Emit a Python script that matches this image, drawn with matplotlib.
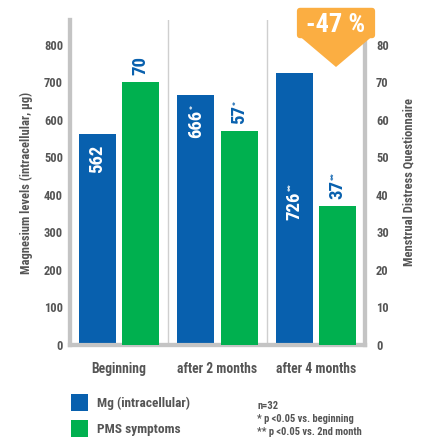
import matplotlib
matplotlib.use("Agg")
import matplotlib.pyplot as plt
from matplotlib.patches import Polygon, Rectangle, FancyBboxPatch
from matplotlib import font_manager as fm

categories = ["Beginning", "after 2 months", "after 4 months"]
mg_values = [562, 666, 726]
pms_values = [70, 57, 37]
mg_labels = ["562", "666", "726"]
pms_labels = ["70", "57", "37"]
mg_marks = ["", "*", "**"]
pms_marks = ["", "*", "**"]
left_ticks = [0, 100, 200, 300, 400, 500, 600, 700, 800]
right_ticks = [0, 10, 20, 30, 40, 50, 60, 70, 80]
badge_text = "-47 %"
legend_labels = ["Mg (intracellular)", "PMS symptoms"]
notes = ["n=32", "* p <0.05 vs. beginning", "** p <0.05 vs. 2nd month"]

names = {f.name for f in fm.fontManager.ttflist}
FAM = ["Liberation Sans Narrow"] if "Liberation Sans Narrow" in names else ["Roboto Condensed", "Liberation Sans"]
FAM = FAM + ["DejaVu Sans"]
plt.rcParams["font.family"] = FAM

BLUE = "#0860ae"
GREEN = "#00b04f"
ORANGE = "#fbae42"
GRAY = "#555555"
SPINE = "#c4c4c4"

W, H = 422, 441
fig = plt.figure(figsize=(W / 100, H / 100), dpi=100)
ax = fig.add_axes([70 / W, 1 - 345 / H, 295 / W, (345 - 20) / H])
ax2 = ax.twinx()

x = list(range(len(categories)))
bw = 0.378
off = 0.22
ax.bar([i - off for i in x], mg_values, width=bw, color=BLUE, zorder=3)
ax2.bar([i + off for i in x], pms_values, width=bw, color=GREEN, zorder=3)

ax.set_xlim(-0.5, 2.5)
ax.set_ylim(0, 866)
ax2.set_ylim(0, 86.6)
for b in [0.5, 1.5]:
    ax.axvline(b, color="#cfcfcf", lw=1, zorder=1)

for a in (ax, ax2):
    a.spines["top"].set_visible(False)
    for s in ["left", "right", "bottom"]:
        a.spines[s].set_color(SPINE)
        a.spines[s].set_linewidth(3)
    a.tick_params(length=0)

ax.set_yticks(left_ticks)
ax.set_yticklabels([str(t) for t in left_ticks], fontsize=9, fontweight="bold", color=GRAY)
ax2.set_yticks(right_ticks)
ax2.set_yticklabels([str(t) for t in right_ticks], fontsize=9, fontweight="bold", color=GRAY)
ax.tick_params(axis="y", pad=5)
ax2.tick_params(axis="y", pad=8)
ax.set_xticks(x)
ax.set_xticklabels(categories, fontsize=9.8, fontweight="bold", color=GRAY)
ax.tick_params(axis="x", pad=12)

ax.set_ylabel("Magnesium levels (intracellular, µg)", fontsize=9, fontweight="bold", color=GRAY, labelpad=8)
ax2.set_ylabel("Menstrual Distress Questionnaire", fontsize=9, fontweight="bold", color=GRAY, labelpad=10)

# value labels
mg_label_y = [496, 589, 371]
num_texts = []
for i, (lab, ly, mk) in enumerate(zip(mg_labels, mg_label_y, mg_marks)):
    t = ax.text(i - off, ly, lab, rotation=90, ha="center", va="center", color="white",
                fontsize=13.5, fontweight="bold", zorder=5)
    num_texts.append((t, mk, "white"))
for i, (v, lab, mk) in enumerate(zip(pms_values, pms_labels, pms_marks)):
    t = ax2.annotate(lab, (i + off, v), xytext=(0, 5), textcoords="offset points",
                     rotation=90, ha="center", va="bottom", color=BLUE,
                     fontsize=13.5, fontweight="bold", zorder=5)
    num_texts.append((t, mk, BLUE))

fig.canvas.draw()
r = fig.canvas.get_renderer()
inv = fig.transFigure.inverted()
for t, mk, col in num_texts:
    if not mk:
        continue
    bb = t.get_window_extent(r)
    px, py = inv.transform((bb.x0 + 1.5, bb.y1 + 0.5))
    fig.text(px, py, mk, rotation=90, ha="left", va="bottom", color=col,
             fontsize=6, fontweight="bold", zorder=12)

# badge
bx0, bx1, by0, by1 = 297, 375, 8, 36
tipx, tipy = 336, 67
def fx(p):
    return p / W
def fy(p):
    return 1 - p / H
badge = FancyBboxPatch((fx(bx0 + 2), fy(by1)), fx(bx1 - bx0 - 4), fy(by0 + 2) - fy(by1),
                       boxstyle="round,pad=0.005,rounding_size=0.008",
                       transform=fig.transFigure, facecolor=ORANGE, edgecolor="none", zorder=10)
fig.patches.append(badge)
tri = Polygon([(fx(bx0), fy(by1 - 2)), (fx(bx1), fy(by1 - 2)), (fx(tipx), fy(tipy))],
              closed=True, transform=fig.transFigure, facecolor=ORANGE, edgecolor="none",
              zorder=10)
fig.patches.append(tri)
fig.text(fx(336), fy(25), badge_text, ha="center", va="center", color="white",
         fontsize=19, fontweight="bold", zorder=11)

# legend
for j, (lab, col) in enumerate(zip(legend_labels, [BLUE, GREEN])):
    ytop = 394 + j * 26
    fig.patches.append(Rectangle((fx(71), fy(ytop + 17)), fx(17), fy(ytop) - fy(ytop + 17),
                                 transform=fig.transFigure, facecolor=col, edgecolor="none"))
    fig.text(fx(97), fy(ytop + 9), lab, ha="left", va="center", fontsize=9.6,
             fontweight="bold", color=GRAY)

for j, n in enumerate(notes):
    fig.text(fx(257), fy(406 + j * 13), n, ha="left", va="center", fontsize=7.6,
             fontweight="bold", color=GRAY)

fig.savefig("out.png", dpi=100, facecolor="white")
